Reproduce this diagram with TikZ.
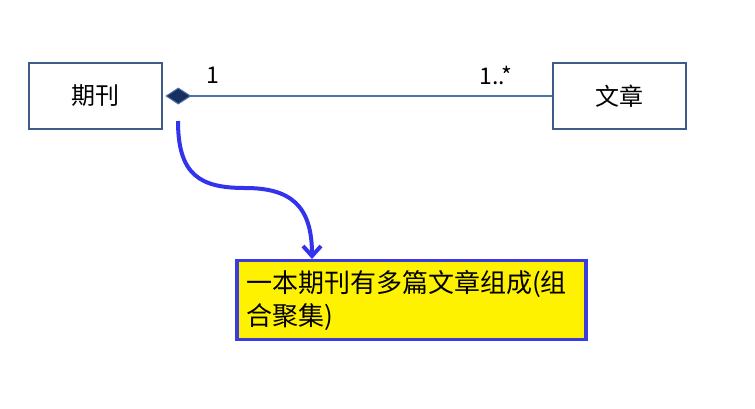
\documentclass[tikz,border=0pt]{standalone}
\usepackage{fontspec}
\setmainfont{Noto Sans CJK SC}
\usetikzlibrary{arrows.meta}

\definecolor{umlframe}{RGB}{62, 92, 135}
\definecolor{umlline}{RGB}{79, 114, 168}
\definecolor{umldiamond}{RGB}{24, 48, 96}
\definecolor{notearrow}{RGB}{51, 51, 238}
\definecolor{noteframe}{RGB}{60, 60, 220}

\begin{document}
\begin{tikzpicture}[
    x=1pt, y=-1pt,
    cls/.style={draw=umlframe, line width=2.6pt, minimum width=133pt, minimum height=66pt,
      inner sep=0pt, font=\fontsize{24}{28}\selectfont},
    mult/.style={font=\fontsize{23}{27}\selectfont},
    note/.style={draw=noteframe, line width=3.2pt, fill=yellow, minimum width=349pt,
      minimum height=76pt, inner sep=9pt, align=left,
      font=\fontsize{26}{33}\selectfont},
  ]
    \useasboundingbox (0,0) rectangle (755,408);

    % === classes ===
    \node[cls] (jour) at (95.5,96) {期刊};
    \node[cls] (art) at (619.5,96) {文章};

    % --- composition (diamond at the whole) ---
    \draw[umlline, line width=2.8pt, shorten <=2pt,
      {Diamond[length=26pt, width=17pt, fill=umldiamond, line width=1pt]}-]
      (jour.east) -- (art.west);
    \node[mult] (m1) at (213,75) {1};
    \node[mult] (mn) at (496,75) {1..*};

    % === note ===
    \node[note, text width=331pt] (note) at (411.5,300)
      {一本期刊有多篇文章组成(组\\合聚集)};

    % --- curved pointer to the note ---
    \coordinate (from) at (178,121);
    \coordinate (to) at (312,262);
    \draw[notearrow, line width=4pt, shorten >=3pt,
      -{Straight Barb[length=10pt, width=18pt]}]
      (from) .. controls (178,175) and (200,188) .. (245,188)
      .. controls (290,188) and (312,205) .. (to);
  \end{tikzpicture}
\end{document}
